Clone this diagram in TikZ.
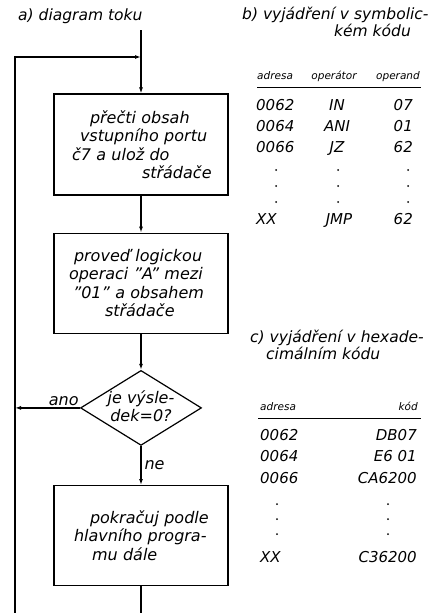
\documentclass[tikz,border=0pt]{standalone}
\usepackage{fontspec}
\setmainfont{DejaVu Sans}
\usepackage{tikz}
\usetikzlibrary{arrows.meta, positioning, shapes.geometric}

\begin{document}
\begin{tikzpicture}[
    x=1pt, y=1pt,
    font=\itshape\fontsize{16}{18.5}\selectfont,
    box/.style={rectangle, draw=black, line width=1.2pt, minimum width=174pt, minimum height=100pt, text width=174pt, inner xsep=0pt, align=left},
    decision/.style={diamond, draw=black, line width=1.2pt, minimum width=121pt, minimum height=75pt, inner sep=0pt, text height=0pt, text depth=0pt},
    arrow/.style={-{Latex[length=6pt, width=4pt]}, line width=1.2pt},
    line/.style={line width=1.2pt},
    title/.style={anchor=base west, inner sep=0pt, align=left, font=\itshape\fontsize{15.5}{17}\selectfont},
    cell/.style={inner sep=0pt, font=\itshape\fontsize{15}{17}\selectfont},
    head/.style={inner sep=0pt, font=\itshape\fontsize{10.5}{12}\selectfont},
    dotmark/.style={circle, fill=black, inner sep=0pt, minimum size=2pt}
]
\useasboundingbox (0,0) rectangle (432,-613);

% flow chart
\node[box, minimum height=101pt] (read) at (141,-144.5) {\hspace*{36pt}přečti obsah\\ \hspace*{26pt}vstupního portu\\ \hspace*{18pt}č7 a ulož do\\ \hspace*{88pt}střádače};
\node[box, below=37pt of read] (logic) {\hspace*{20pt}proveď logickou\\ \hspace*{15pt}operaci "A" mezi\\ \hspace*{19pt}"01" a obsahem\\ \hspace*{51pt}střádače};
\node[decision, below=36pt of logic] (test) {\makebox[0pt]{\raisebox{-5pt}{\begin{tabular}{@{}c@{}}je výsle-\\dek=0?\end{tabular}}}};
\node[box, below=39pt of test] (cont) {\hspace*{36pt}pokračuj podle\\ \hspace*{20pt}hlavního progra-\\ \hspace*{38pt}mu dále};

\coordinate (entry) at (141,-30);
\coordinate (junction) at (141,-57);
\coordinate (loopTop) at (15,-57);
\coordinate (loopBot) at (15,-613);
\coordinate (anoEnd) at (test.west -| loopTop);
\coordinate (outBot) at (141,-613);

\draw[arrow] (entry) -- (read);
\draw[arrow] (loopBot) -- (loopTop) -- (junction);
\draw[arrow] (read) -- (logic);
\draw[arrow] (logic) -- (test);
\draw[arrow] (test) -- node[pos=0.25, above, inner sep=2pt] {ano} (anoEnd);
\draw[arrow] (test) -- node[pos=0.5, right, inner sep=3pt] {ne} (cont);
\draw[line] (cont) -- (outBot);

% titles
\node[title] (titleA) at (18,-20) {a) diagram toku};
\node[title] (titleB) at (242,-36) {b) vyjádření v symbolic-\\ \hspace*{92pt}kém kódu};
\node[title] (titleC) at (250,-359) {c) vyjádření v hexade-\\ \hspace*{16pt}cimálním kódu};

% symbolic code
\node[head, anchor=base west] (hAdrB) at (257,-79) {adresa};
\node[head, anchor=base] (hOp) at (334,-79) {operátor};
\node[head, anchor=base east] (hOpd) at (420,-79) {operand};
\draw[line, line width=0.9pt] (257,-87) -- (421,-87);

\node[cell, anchor=base west] (a1) at (256,-110) {0062};
\node[cell, anchor=base] (o1) at (337,-110) {IN};
\node[cell, anchor=base east] (p1) at (413,-110) {07};
\node[cell, anchor=base west] (a2) at (256,-131) {0064};
\node[cell, anchor=base] (o2) at (337,-131) {ANI};
\node[cell, anchor=base east] (p2) at (413,-131) {01};
\node[cell, anchor=base west] (a3) at (256,-152) {0066};
\node[cell, anchor=base] (o3) at (337,-152) {JZ};
\node[cell, anchor=base east] (p3) at (413,-152) {62};
\node[cell, anchor=base west] (a4) at (256,-224) {XX};
\node[cell, anchor=base] (o4) at (339,-224) {JMP};
\node[cell, anchor=base east] (p4) at (413,-224) {62};
\foreach \y in {-170,-186,-202} {
  \node[dotmark] at (276,\y) {};
  \node[dotmark] at (338,\y) {};
  \node[dotmark] at (408,\y) {};
}

% hexadecimal code
\node[head, anchor=base west] (hAdrC) at (260,-410) {adresa};
\node[head, anchor=base east] (hKod) at (418,-410) {kód};
\draw[line, line width=0.9pt] (258,-418) -- (421,-418);

\node[cell, anchor=base west] (c1) at (260,-440) {0062};
\node[cell, anchor=base east] (k1) at (417,-440) {DB07};
\node[cell, anchor=base west] (c2) at (260,-461) {0064};
\node[cell, anchor=base east] (k2) at (417,-461) {E6 01};
\node[cell, anchor=base west] (c3) at (260,-483) {0066};
\node[cell, anchor=base east] (k3) at (417,-483) {CA6200};
\node[cell, anchor=base west] (c4) at (260,-562) {XX};
\node[cell, anchor=base east] (k4) at (417,-562) {C36200};
\foreach \y in {-504,-519,-534} {
  \node[dotmark] at (277,\y) {};
  \node[dotmark] at (388,\y) {};
}
\end{tikzpicture}
\end{document}
